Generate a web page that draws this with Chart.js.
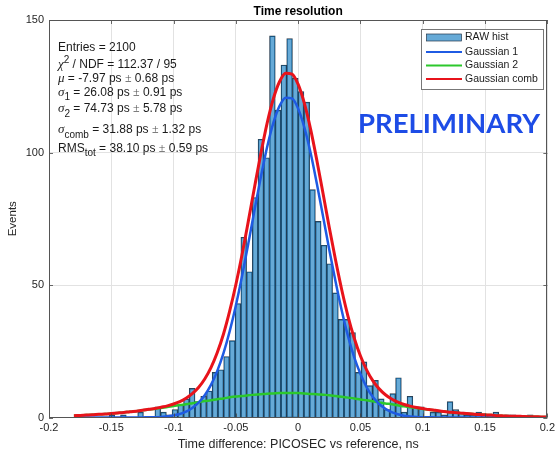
<!DOCTYPE html>
<html>
<head>
<meta charset="utf-8">
<script src="https://cdn.jsdelivr.net/npm/chart.js@4.4.0/dist/chart.umd.min.js"></script>
<style>
  html, body { margin: 0; padding: 0; background: #fff; }
</style>
</head>
<body>
<canvas id="chart" width="559" height="451"></canvas>
<script>
// histogram: bins of width binWidth, first bin starts at firstBin * binWidth
const binWidth = 0.0046;
const firstBin = -39;
const rawCounts = [
  1, 0, 0, 0, 0, 0, 1, 0, 1, 0,
  0, 2, 0, 0, 4, 2, 1, 3, 5, 7,
  11, 6, 8, 10, 17, 18, 23, 29, 43, 68,
  55, 83, 105, 98, 144, 116, 133, 143, 128, 123,
  119, 86, 74, 65, 58, 47, 37, 37, 32, 17,
  21, 12, 14, 7, 3, 9, 15, 2, 8, 4,
  4, 0, 2, 2, 1, 6, 3, 2, 1, 1,
  2, 1, 1, 2, 0, 1, 1, 0, 0, 1
];

// fit curves read at x = -0.18, -0.175, ... 0.2
const curveStart = -0.18;
const curveStep = 0.005;
const gauss1 = [
  0, 0, 0, 0, 0, 0, 0, 0, 0, 0,
  0, 0, 0.1, 0.1, 0.2, 0.5, 0.8, 1.3, 2.2, 3.6,
  5.6, 8.4, 12.3, 17.5, 24.2, 32.5, 42.3, 53.5, 65.7, 78.4,
  90.7, 101.9, 111.1, 117.5, 120.7, 120.4, 116.5, 109.4, 99.8, 88.2,
  75.8, 63.2, 51.3, 40.3, 30.7, 22.7, 16.4, 11.4, 7.7, 5.1,
  3.3, 2.0, 1.2, 0.7, 0.4, 0.2, 0.1, 0.1, 0, 0,
  0, 0, 0, 0, 0, 0, 0, 0, 0, 0,
  0, 0, 0, 0, 0, 0, 0
];
const gauss2 = [
  0.7, 0.8, 0.9, 1.0, 1.2, 1.3, 1.5, 1.7, 1.9, 2.2,
  2.4, 2.7, 3.0, 3.3, 3.6, 4.0, 4.3, 4.7, 5.0, 5.4,
  5.8, 6.2, 6.5, 6.9, 7.2, 7.6, 7.9, 8.1, 8.4, 8.6,
  8.8, 9.0, 9.1, 9.2, 9.2, 9.2, 9.2, 9.1, 8.9, 8.8,
  8.6, 8.4, 8.1, 7.8, 7.5, 7.2, 6.8, 6.5, 6.1, 5.7,
  5.3, 5.0, 4.6, 4.2, 3.9, 3.6, 3.2, 2.9, 2.6, 2.4,
  2.1, 1.9, 1.7, 1.5, 1.3, 1.1, 1.0, 0.9, 0.7, 0.6,
  0.5, 0.5, 0.4, 0.3, 0.3, 0.2, 0.2
];
const gaussComb = [
  0.7, 0.8, 0.9, 1.0, 1.2, 1.3, 1.5, 1.7, 1.9, 2.2,
  2.4, 2.7, 3.1, 3.4, 3.9, 4.4, 5.1, 6.0, 7.3, 9.0,
  11.3, 14.5, 18.8, 24.4, 31.4, 40.1, 50.2, 61.6, 74.1, 87.0,
  99.5, 110.9, 120.2, 126.7, 129.9, 129.6, 125.7, 118.5, 108.7, 97.0,
  84.4, 71.6, 59.4, 48.1, 38.2, 29.9, 23.2, 17.9, 13.8, 10.8,
  8.6, 7.0, 5.8, 4.9, 4.3, 3.8, 3.4, 3.0, 2.7, 2.4,
  2.1, 1.9, 1.7, 1.5, 1.3, 1.1, 1.0, 0.9, 0.7, 0.6,
  0.5, 0.5, 0.4, 0.3, 0.3, 0.2, 0.2
];

const xTickValues = [-0.2, -0.15, -0.1, -0.05, 0, 0.05, 0.1, 0.15, 0.2];
const xTickLabels = ['-0.2', '-0.15', '-0.1', '-0.05', '0', '0.05', '0.1', '0.15', '0.2'];
const yTickValues = [0, 50, 100, 150];
const yTickLabels = ['0', '50', '100', '150'];

const seriesNames = ['RAW hist', 'Gaussian 1', 'Gaussian 2', 'Gaussian comb'];
const seriesColors = ['rgba(0,114,189,0.6)', '#1f5be3', '#2cc82c', '#e8131b'];

// fit summary, split in parts: g = greek, sup/sub = script, pm = plus-minus
const statLines = [
  [['Entries = 2100']],
  [['\u03c7', 'g'], ['2', 'sup'], [' / NDF = 112.37 / 95']],
  [['\u03bc', 'g'], [' = -7.97 ps '], ['\u00b1', 'pm'], [' 0.68 ps']],
  [['\u03c3', 'g'], ['1', 'sub'], [' = 26.08 ps '], ['\u00b1', 'pm'], [' 0.91 ps']],
  [['\u03c3', 'g'], ['2', 'sub'], [' = 74.73 ps '], ['\u00b1', 'pm'], [' 5.78 ps']],
  [['\u03c3', 'g'], ['comb', 'sub'], [' = 31.88 ps '], ['\u00b1', 'pm'], [' 1.32 ps']],
  [['RMS'], ['tot', 'sub'], [' = 38.10 ps '], ['\u00b1', 'pm'], [' 0.59 ps']]
];

const chartTitle = 'Time resolution';
const xTitle = 'Time difference: PICOSEC vs reference, ns';
const yTitle = 'Events';
const stamp = 'PRELIMINARY';

const SANS = "'Liberation Sans', Arial, sans-serif";
const SERIF = "'Liberation Serif', 'DejaVu Serif', serif";

function curvePoints(vals) {
  return vals.map((v, i) => ({ x: curveStart + i * curveStep, y: v }));
}

function drawRich(ctx, parts, x, y) {
  parts.forEach(([text, kind]) => {
    let font = '12px ' + SANS, dy = 0, color = '#1a1a1a';
    if (kind === 'g') font = 'italic 13px ' + SERIF;
    if (kind === 'sup') { font = '10px ' + SANS; dy = -5; }
    if (kind === 'sub') { font = '10px ' + SANS; dy = 5; }
    if (kind === 'pm') { font = '12px ' + SERIF; color = '#555'; }
    ctx.font = font;
    ctx.fillStyle = color;
    ctx.fillText(text, x, y + dy);
    x += ctx.measureText(text).width;
  });
}

const decor = {
  id: 'decor',
  afterDraw(chart) {
    const ctx = chart.ctx, a = chart.chartArea;
    const xs = chart.scales.x, ys = chart.scales.y;
    ctx.save();

    // inner tick marks and the box
    ctx.strokeStyle = '#444';
    ctx.lineWidth = 0.8;
    ctx.beginPath();
    xTickValues.forEach(v => {
      const px = Math.round(xs.getPixelForValue(v)) + 0.5;
      ctx.moveTo(px, a.bottom); ctx.lineTo(px, a.bottom - 4);
      ctx.moveTo(px, a.top); ctx.lineTo(px, a.top + 4);
    });
    yTickValues.forEach(v => {
      const py = Math.round(ys.getPixelForValue(v)) + 0.5;
      ctx.moveTo(a.left, py); ctx.lineTo(a.left + 4, py);
      ctx.moveTo(a.right, py); ctx.lineTo(a.right - 4, py);
    });
    ctx.stroke();
    ctx.strokeStyle = '#555';
    ctx.lineWidth = 1;
    ctx.strokeRect(Math.round(a.left) + 0.5, Math.round(a.top) + 0.5,
                   Math.round(a.width) - 1, Math.round(a.height) - 1);

    // titles
    const cx = (a.left + a.right) / 2;
    ctx.textBaseline = 'middle';
    ctx.textAlign = 'center';
    ctx.fillStyle = '#000';
    ctx.font = 'bold 12px ' + SANS;
    ctx.fillText(chartTitle, cx, 12);
    ctx.fillStyle = '#262626';
    ctx.font = '12.5px ' + SANS;
    ctx.fillText(xTitle, cx, 445);
    ctx.save();
    ctx.translate(13, (a.top + a.bottom) / 2);
    ctx.rotate(-Math.PI / 2);
    ctx.font = '11.5px ' + SANS;
    ctx.fillText(yTitle, 0, 0);
    ctx.restore();

    // fit summary
    ctx.textAlign = 'left';
    const rows = [47.5, 65, 79, 92.5, 109, 130, 148.5];
    statLines.forEach((parts, i) => drawRich(ctx, parts, 58, rows[i]));

    // legend
    ctx.fillStyle = '#fff';
    ctx.fillRect(421, 29, 122, 61);
    ctx.strokeStyle = '#777';
    ctx.lineWidth = 1;
    ctx.strokeRect(421.5, 29.5, 122, 60);
    const ly = [37.5, 52, 65.5, 79];
    seriesNames.forEach((name, i) => {
      if (i === 0) {
        ctx.fillStyle = seriesColors[0];
        ctx.fillRect(426.5, ly[i] - 3.5, 35, 7);
        ctx.strokeStyle = '#24384c';
        ctx.lineWidth = 0.7;
        ctx.strokeRect(426.5, ly[i] - 3.5, 35, 7);
      } else {
        ctx.strokeStyle = seriesColors[i];
        ctx.lineWidth = 2;
        ctx.beginPath();
        ctx.moveTo(426, ly[i]); ctx.lineTo(462, ly[i]);
        ctx.stroke();
      }
      ctx.fillStyle = '#1a1a1a';
      ctx.font = '10.5px ' + SANS;
      ctx.fillText(name, 465, ly[i]);
    });

    // stamp
    ctx.font = 'bold 26px Lato, ' + SANS;
    const w = ctx.measureText(stamp).width;
    ctx.save();
    ctx.translate(358, 125);
    ctx.scale(182 / w, 1);
    ctx.fillStyle = '#1d4ce6';
    ctx.fillText(stamp, 0, 0);
    ctx.restore();

    ctx.restore();
  }
};

new Chart(document.getElementById('chart'), {
  type: 'bar',
  data: {
    datasets: [
      {
        label: seriesNames[0],
        data: rawCounts.map((c, i) => ({ x: (firstBin + i + 0.5) * binWidth, y: c })),
        backgroundColor: seriesColors[0],
        borderColor: 'rgba(25,40,55,0.9)',
        borderWidth: 0.7,
        barPercentage: 1,
        categoryPercentage: 1,
        order: 4
      },
      {
        type: 'line',
        label: seriesNames[2],
        data: curvePoints(gauss2),
        borderColor: seriesColors[2],
        borderWidth: 2.5,
        pointRadius: 0,
        cubicInterpolationMode: 'monotone',
        order: 3
      },
      {
        type: 'line',
        label: seriesNames[1],
        data: curvePoints(gauss1),
        borderColor: seriesColors[1],
        borderWidth: 2.5,
        pointRadius: 0,
        cubicInterpolationMode: 'monotone',
        order: 2
      },
      {
        type: 'line',
        label: seriesNames[3],
        data: curvePoints(gaussComb),
        borderColor: seriesColors[3],
        borderWidth: 3,
        pointRadius: 0,
        cubicInterpolationMode: 'monotone',
        order: 1
      }
    ]
  },
  options: {
    responsive: false,
    animation: false,
    events: [],
    layout: { padding: { top: 20, right: 7, left: 0, bottom: 0 } },
    plugins: {
      legend: { display: false },
      title: { display: false },
      tooltip: { enabled: false }
    },
    scales: {
      x: {
        type: 'linear',
        min: -0.2,
        max: 0.2,
        offset: false,
        afterBuildTicks: s => { s.ticks = xTickValues.map(v => ({ value: v })); },
        afterFit: s => { s.height = 33.5; },
        grid: { offset: false, color: '#e2e2e2', drawTicks: false },
        border: { display: false },
        ticks: {
          padding: 4,
          maxRotation: 0,
          autoSkip: false,
          color: '#262626',
          font: { family: SANS, size: 11 },
          callback: (v, i) => xTickLabels[i]
        }
      },
      y: {
        min: 0,
        max: 150,
        afterBuildTicks: s => { s.ticks = yTickValues.map(v => ({ value: v })); },
        afterFit: s => { s.width = 49; },
        grid: { color: '#e2e2e2', drawTicks: false },
        border: { display: false },
        ticks: {
          padding: 5,
          color: '#262626',
          font: { family: SANS, size: 11 },
          callback: (v, i) => yTickLabels[i]
        }
      }
    }
  },
  plugins: [decor]
});
</script>
</body>
</html>
